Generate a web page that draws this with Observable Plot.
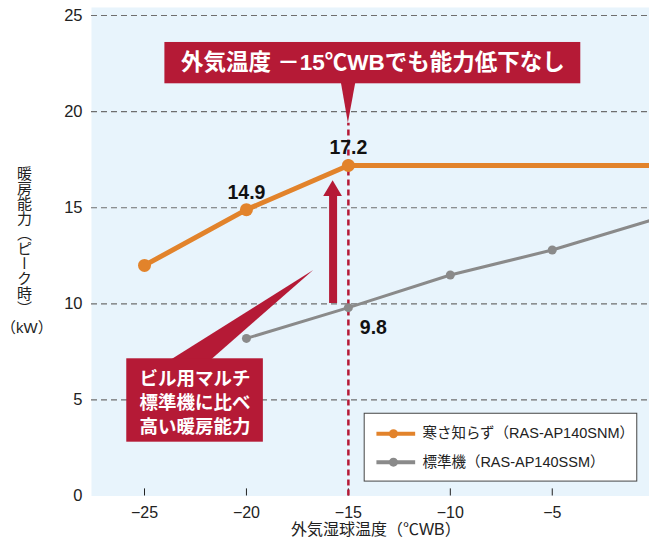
<!DOCTYPE html>
<html><head><meta charset="utf-8">
<script src="https://cdn.jsdelivr.net/npm/d3@7"></script>
<script src="https://cdn.jsdelivr.net/npm/@observablehq/plot@0.6"></script>
<style>
body{margin:0;background:#fff;}
#chart svg{display:block;}
</style></head><body><div id="chart"></div>
<script>
// ---- data ----
const coldTemps = [-25, -20, -15, -10, -5, 0];
const coldValues = [12.0, 14.9, 17.2, 17.2, 17.2, 17.2];
const coldMarkedTemps = [-25, -20, -15];
const stdTemps = [-20, -15, -10, -5, 0];
const stdValues = [8.2, 9.8, 11.5, 12.8, 14.4];
const stdMarkedTemps = [-20, -15, -10, -5];
const xTicks = [-25, -20, -15, -10, -5];
const yTicks = [0, 5, 10, 15, 20, 25];
const seriesNames = ["寒さ知らず（RAS-AP140SNM）", "標準機（RAS-AP140SSM）"];
const labelTemps = [-20, -15, -15];
const labelValues = [14.9, 17.2, 9.8];
const labelSeries = ["cold", "cold", "std"];
const calloutTitle = "外気温度 －15℃WBでも能力低下なし";
const calloutNote = "ビル用マルチ\n標準機に比べ\n高い暖房能力";
const xLabel = "外気湿球温度（℃WB）";
const yLabel = "暖房能力（ピーク時）";
const yUnit = "（kW）";
const markTemp = -15;

// ---- styling / annotation layout ----
const FONT = '"Liberation Sans", Arial, "Noto Sans CJK JP", sans-serif';
const BG = "#e8f4fc", RED = "#b51a36", ORANGE = "#e2832b", GRAY = "#8a8a8a";
const XDOM = [-27.6, -0.23], YDOM = [0, 25.42];

const coldData = coldTemps.map((t, i) => ({t, v: coldValues[i]}));
const stdData = stdTemps.map((t, i) => ({t, v: stdValues[i]}));
const coldDots = coldData.filter(d => coldMarkedTemps.includes(d.t));
const stdDots = stdData.filter(d => stdMarkedTemps.includes(d.t));
const labels = labelTemps.map((t, i) => ({t, v: labelValues[i], s: labelSeries[i], text: String(labelValues[i])}));

const topBox = [{x1: -24.0, x2: -3.6, y1: 21.45, y2: 23.6}];
const topPointer = [{x: -15.36, b: 21.6, t: 21.6}, {x: markTemp, b: 21.6, t: 19.4}, {x: -14.62, b: 21.6, t: 21.6}];
const noteBox = [{x1: -25.87, x2: -19.17, y1: 2.8, y2: 7.14}];
const noteWedge = [{y: 7.0, a: -23.8, b: -21.8}, {y: 11.73, a: -16.7, b: -16.7}];
const arrowShaft = [{x: -15.75, y1: 10.02, y2: 15.7}];
const arrowHead = [{x: -16.21, b: 15.58, t: 15.58}, {x: -15.75, b: 15.58, t: 16.41}, {x: -15.29, b: 15.58, t: 15.58}];
const legendBox = [{x1: -14.2, x2: -0.83, y1: 0.75, y2: 4.28}];
const legendRows = [
  {name: seriesNames[0], color: ORANGE, y: 3.24, w: 4},
  {name: seriesNames[1], color: GRAY, y: 1.76, w: 4}
];
const xLabelCenter = -13.65;

const chart = Plot.plot({
  width: 649, height: 544,
  marginLeft: 91, marginRight: 0, marginTop: 7, marginBottom: 48.5,
  x: {domain: XDOM},
  y: {domain: YDOM},
  style: {fontFamily: FONT, background: "white", color: "#222"},
  marks: [
    Plot.frame({fill: BG}),
    Plot.gridY(yTicks.filter(v => v > 0), {stroke: "#6e6e6e", strokeOpacity: 1, strokeWidth: 1.1, strokeDasharray: "6,4"}),
    Plot.ruleX(xTicks, {y1: 0, y2: 0.37, stroke: "#222", strokeWidth: 1}),
    Plot.axisY(yTicks, {tickSize: 0, tickPadding: 9, fontSize: 16.5, label: null}),
    Plot.axisX(xTicks, {tickSize: 0, tickPadding: 11, fontSize: 16, label: null}),
    // red dashed marker
    Plot.ruleX([markTemp], {y1: 0, y2: 19.4, stroke: RED, strokeWidth: 2.5, strokeDasharray: "6,4"}),
    // top callout
    Plot.areaY(topPointer, {x: "x", y1: "b", y2: "t", fill: RED, curve: "linear"}),
    Plot.rect(topBox, {x1: "x1", x2: "x2", y1: "y1", y2: "y2", fill: RED}),
    Plot.text([calloutTitle], {x: (topBox[0].x1 + topBox[0].x2) / 2, y: (topBox[0].y1 + topBox[0].y2) / 2, text: d => d, fill: "white", fontSize: 22.5, fontWeight: "bold"}),
    // series
    Plot.line(stdData, {x: "t", y: "v", stroke: GRAY, strokeWidth: 3, clip: true}),
    Plot.dot(stdDots, {x: "t", y: "v", r: 4.5, fill: GRAY}),
    Plot.line(coldData, {x: "t", y: "v", stroke: ORANGE, strokeWidth: 5, clip: true}),
    Plot.dot(coldDots, {x: "t", y: "v", r: 6.5, fill: ORANGE}),
    // red arrow
    Plot.ruleX(arrowShaft, {x: "x", y1: "y1", y2: "y2", stroke: RED, strokeWidth: 8}),
    Plot.areaY(arrowHead, {x: "x", y1: "b", y2: "t", fill: RED}),
    // note callout
    Plot.areaX(noteWedge, {y: "y", x1: "a", x2: "b", fill: RED}),
    Plot.rect(noteBox, {x1: "x1", x2: "x2", y1: "y1", y2: "y2", fill: RED}),
    Plot.text([calloutNote], {x: (noteBox[0].x1 + noteBox[0].x2) / 2, y: 4.95, text: d => d, fill: "white", fontSize: 18.5, fontWeight: "bold", lineHeight: 1.3}),
    // legend
    Plot.rect(legendBox, {x1: "x1", x2: "x2", y1: "y1", y2: "y2", fill: "white", stroke: "#444", strokeWidth: 1}),
    Plot.ruleY(legendRows, {y: "y", x1: -13.6, x2: -11.7, stroke: "color", strokeWidth: "w"}),
    Plot.dot(legendRows, {x: -12.79, y: "y", r: 4.5, fill: "color"}),
    Plot.text(legendRows, {x: -11.37, y: "y", text: "name", textAnchor: "start", fontSize: 14.5, fill: "#222"}),
    // value labels
    Plot.text(labels.filter(d => d.s === "cold"), {x: "t", y: "v", text: "text", lineAnchor: "bottom", dy: -11, fontSize: 19.5, fontWeight: "bold", fill: "#111"}),
    Plot.text(labels.filter(d => d.s === "std"), {x: "t", y: "v", text: "text", lineAnchor: "top", dx: 25, dy: 12, fontSize: 19.5, fontWeight: "bold", fill: "#111"}),
    // axis titles
    Plot.text([yLabel], {frameAnchor: "left", y: 13.29, dx: -68, text: d => d, fontSize: 15, fill: "#222"}),
    Plot.text([yUnit], {frameAnchor: "left", y: 8.71, dx: -90.5, textAnchor: "start", text: d => d, fontSize: 15, fill: "#222"}),
    Plot.text([xLabel], {x: xLabelCenter, frameAnchor: "bottom", dy: 39, textAnchor: "middle", text: d => d, fontSize: 16, fill: "#222"})
  ]
});

// make the y-axis title vertical
d3.select(chart).selectAll("text").each(function () {
  if (this.textContent === yLabel) {
    const t = d3.select(this);
    t.attr("writing-mode", "vertical-rl").attr("y", null).attr("dy", null).attr("text-anchor", "middle");
    t.style("text-orientation", "mixed");
  }
});

document.getElementById("chart").appendChild(chart);
</script></body></html>
